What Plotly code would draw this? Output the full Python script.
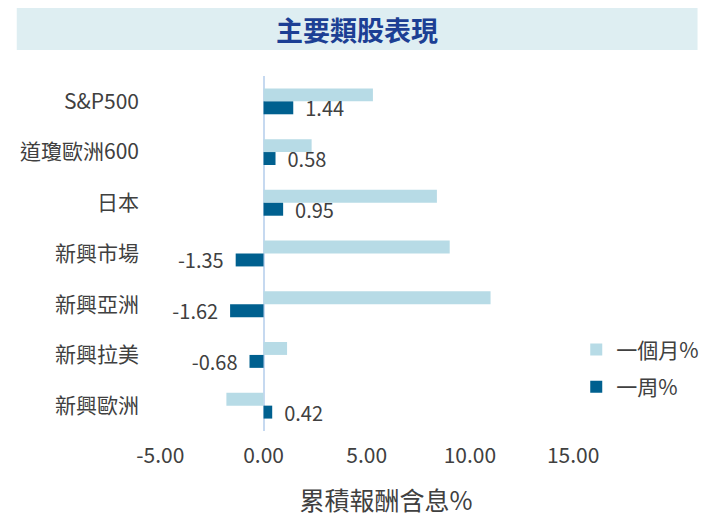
import plotly.graph_objects as go

categories = ["S&P500", "道瓊歐洲600", "日本", "新興市場", "新興亞洲", "新興拉美", "新興歐洲"]
month_pct = [5.30, 2.33, 8.40, 9.02, 11.0, 1.14, -1.80]
week_pct = [1.44, 0.58, 0.95, -1.35, -1.62, -0.68, 0.42]
series_names = ["一個月%", "一周%"]
tick_vals = [-5, 0, 5, 10, 15]
tick_text = ["-5.00", "0.00", "5.00", "10.00", "15.00"]

FONT = "Noto Sans CJK TC, Noto Sans, sans-serif"
GRAY = "#404040"
LIGHT = "#B7DBE6"
DARK = "#00608F"

OFF = 8  # page body margin
W, H = 716 - OFF, 523 - OFF
L, R, T, B = 136 - OFF, 77, 76 - OFF, 99 - OFF

def px(x):
    return x - OFF

def week_text(v):
    s = f"{v:.2f}"
    return ("\u00a0\u00a0" + s) if v >= 0 else (s + "\u00a0\u00a0")

fig = go.Figure()
fig.add_trace(go.Bar(
    y=categories, x=month_pct, orientation="h", name=series_names[0],
    marker=dict(color=LIGHT, line=dict(width=0)), legendgroup="a",
))
fig.add_trace(go.Bar(
    y=categories, x=week_pct, orientation="h", name=series_names[1],
    marker=dict(color=DARK, line=dict(width=0)), legendgroup="b",
    text=[week_text(v) for v in week_pct], textposition="outside",
    textfont=dict(family=FONT, size=20, color=GRAY),
    constraintext="none", cliponaxis=False,
))

px_per_unit = 21.1
zero_px = px(262.3)
x_left = (L - zero_px) / px_per_unit
x_right = (W - R - zero_px) / px_per_unit
PW = W - L - R
PH = H - T - B

fig.update_layout(
    width=W, height=H,
    margin=dict(l=L, r=R, t=T, b=B),
    paper_bgcolor="white", plot_bgcolor="white",
    barmode="group", bargap=0.49, bargroupgap=0,
    font=dict(family=FONT, size=20, color=GRAY),
    showlegend=True,
    legend=dict(
        x=(px(582) - L) / PW, y=1 - (px(330) - T) / PH,
        xanchor="left", yanchor="top",
        traceorder="grouped", tracegroupgap=7,
        font=dict(family=FONT, size=21, color=GRAY),
        bgcolor="rgba(0,0,0,0)",
    ),
    xaxis=dict(
        range=[x_left, x_right], tickvals=tick_vals, ticktext=tick_text,
        showgrid=False, zeroline=True, zerolinecolor="#C6D9F0", zerolinewidth=2,
        showline=False, ticks="outside", ticklen=6, tickcolor="rgba(0,0,0,0)",
        tickfont=dict(family=FONT, size=21, color=GRAY),
        title=dict(text="累積報酬含息%", font=dict(family=FONT, size=25, color=GRAY), standoff=24),
    ),
    yaxis=dict(
        autorange="reversed", showgrid=False, zeroline=False, showline=False,
        ticks="", tickfont=dict(family=FONT, size=21, color=GRAY),
    ),
    shapes=[dict(
        type="rect", xref="paper", yref="paper",
        x0=(px(10) - L) / PW, x1=(px(706) - L) / PW,
        y0=1 + (T - px(50)) / PH, y1=1 + (T - px(7)) / PH,
        fillcolor="#DEEEF2", line=dict(width=0), layer="below",
    )],
    annotations=[dict(
        text="<b>主要類股表現</b>", xref="paper", yref="paper",
        x=(px(358) - L) / PW, y=1 + (T - px(29)) / PH,
        xanchor="center", yanchor="middle", showarrow=False,
        font=dict(family=FONT, size=27, color="#1C3F94"),
    )],
)

fig.write_html("out.html")
